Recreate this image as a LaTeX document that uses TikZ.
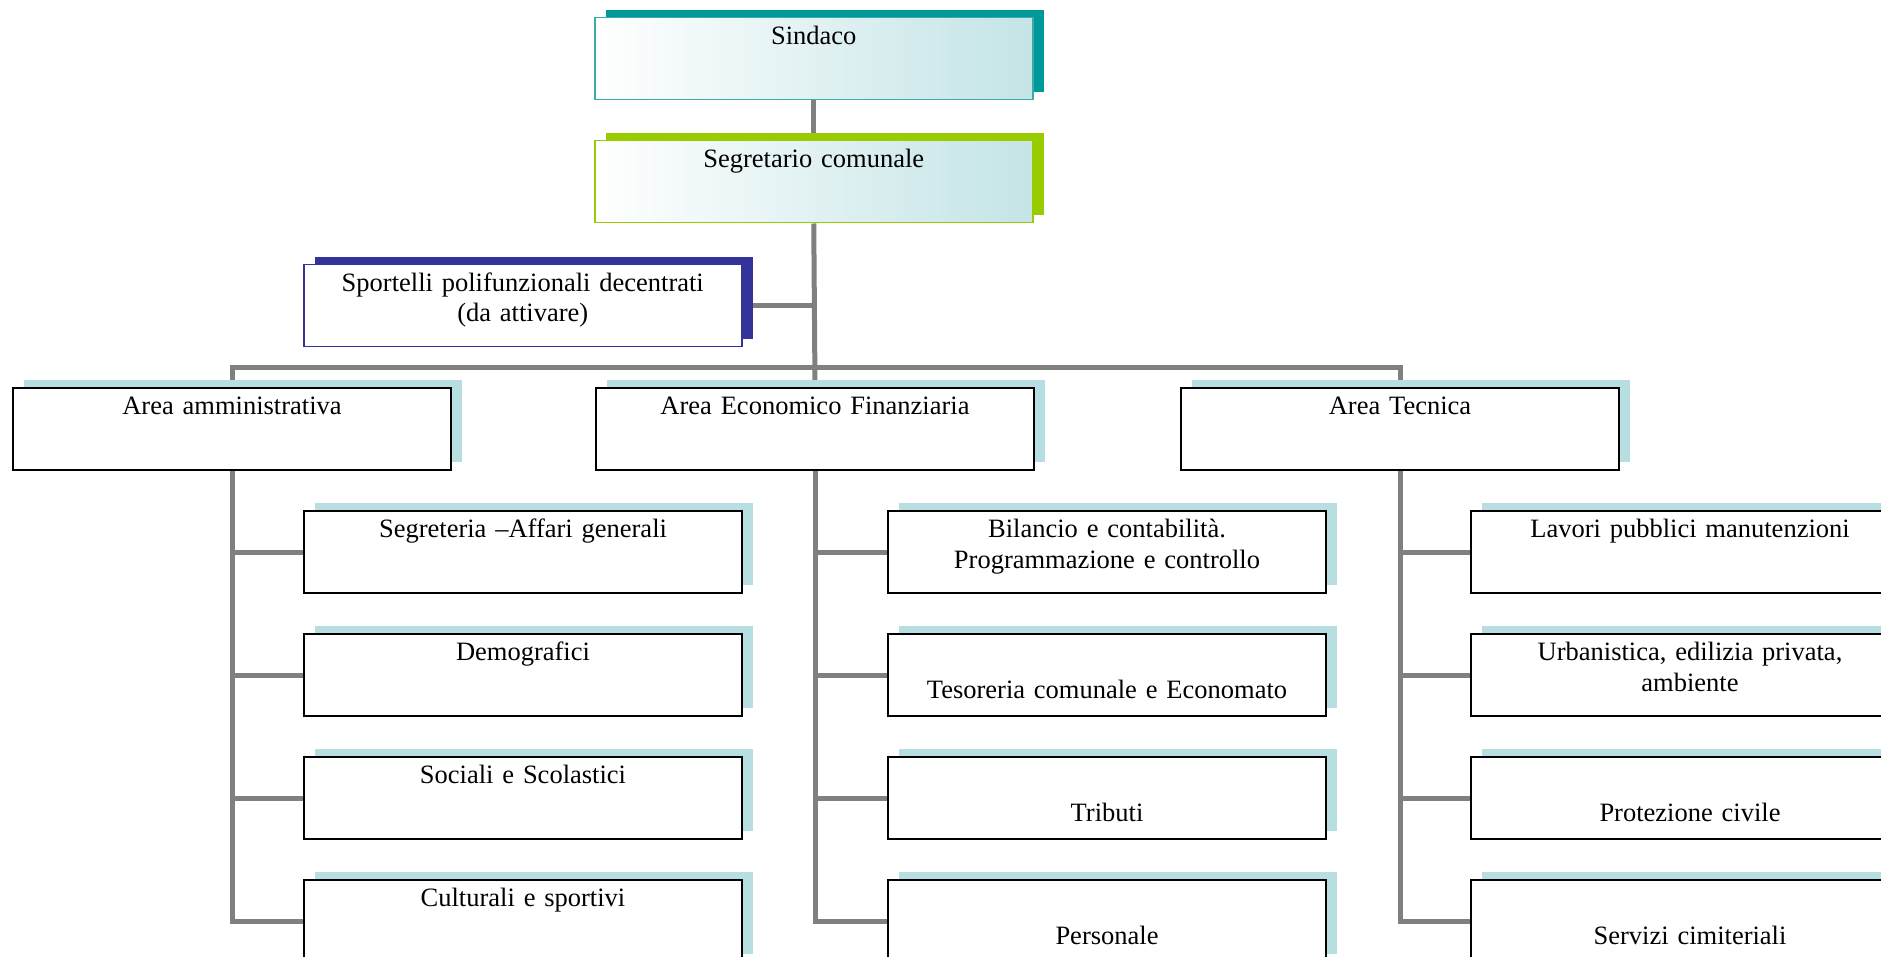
\documentclass[tikz,border=0pt]{standalone}
\usepackage{fontspec}
\setmainfont{Liberation Serif}
\usetikzlibrary{shadows}
\pgfdeclarelayer{background}
\pgfsetlayers{background,main}
\definecolor{lineg}{RGB}{128,128,128}
\definecolor{tealS}{RGB}{0,153,153}
\definecolor{tealB}{RGB}{60,170,170}
\definecolor{limeS}{RGB}{153,204,0}
\definecolor{navyS}{RGB}{51,51,153}
\definecolor{pale}{RGB}{183,222,225}
\definecolor{grad}{RGB}{196,228,230}
\tikzset{
  every node/.style={font=\fontsize{26.5}{30.5}\selectfont},
  box/.style={draw=black, line width=2pt, fill=white, anchor=north west,
    inner xsep=4pt, inner ysep=0pt, text width=430pt, align=center,
    text height=26.5pt, text depth=55.5pt},
  shd/.style={drop shadow={shadow xshift=11pt, shadow yshift=8pt, fill=#1, opacity=1}},
  lowtext/.style={text height=64.5pt, text depth=17.5pt},
  topbox/.style={box, line width=1.5pt, left color=white, right color=grad},
  conn/.style={draw=lineg, line width=5pt}
}
\begin{document}
\begin{tikzpicture}[x=1pt, y=-1pt]
\useasboundingbox (0,0) rectangle (1881,957);
\clip (0,0) rectangle (1881,957);
% top
\node[topbox, draw=tealB, shd=tealS] (sin) at (594,17) {Sindaco};
\node[topbox, draw=limeS, shd=limeS] (seg) at (594,140) {Segretario comunale};
\node[box, line width=1.5pt, draw=navyS, shd=navyS] (spo) at (303,264) {Sportelli polifunzionali decentrati\\(da attivare)};
% areas
\node[box, shd=pale] (a1) at (12,387) {Area amministrativa};
\node[box, shd=pale] (a2) at (595,387) {Area Economico Finanziaria};
\node[box, shd=pale] (a3) at (1180,387) {Area Tecnica};
% column 1
\node[box, shd=pale] (c11) at (303,510) {Segreteria \textendash Affari generali};
\node[box, shd=pale] (c12) at (303,633) {Demografici};
\node[box, shd=pale] (c13) at (303,756) {Sociali e Scolastici};
\node[box, shd=pale] (c14) at (303,879) {Culturali e sportivi};
% column 2
\node[box, shd=pale] (c21) at (887,510) {Bilancio e contabilità.\\Programmazione e controllo};
\node[box, shd=pale, lowtext] (c22) at (887,633) {Tesoreria comunale e Economato};
\node[box, shd=pale, lowtext] (c23) at (887,756) {Tributi};
\node[box, shd=pale, lowtext] (c24) at (887,879) {Personale};
% column 3
\node[box, shd=pale] (c31) at (1470,510) {Lavori pubblici manutenzioni};
\node[box, shd=pale] (c32) at (1470,633) {Urbanistica, edilizia privata,\\ambiente};
\node[box, shd=pale, lowtext] (c33) at (1470,756) {Protezione civile};
\node[box, shd=pale, lowtext] (c34) at (1470,879) {Servizi cimiteriali};
\begin{pgfonlayer}{background}
\draw[conn] (sin.south) -- (seg.north);
\draw[conn] (seg.south) -- (a2.north);
\draw[conn] (spo.east) -- (spo.east -| seg.south);
\draw[conn] (a1.north) -- ++(0,-20) -| (a3.north);
\draw[conn] (a1.south) |- (c14.west);
\draw[conn] (a2.south) |- (c24.west);
\draw[conn] (a3.south) |- (c34.west);
\foreach \c in {1,2,3}{
  \draw[conn] (c1\c.west) -- (c1\c.west -| a1.south);
  \draw[conn] (c2\c.west) -- (c2\c.west -| a2.south);
  \draw[conn] (c3\c.west) -- (c3\c.west -| a3.south);
}
\end{pgfonlayer}
\end{tikzpicture}
\end{document}
